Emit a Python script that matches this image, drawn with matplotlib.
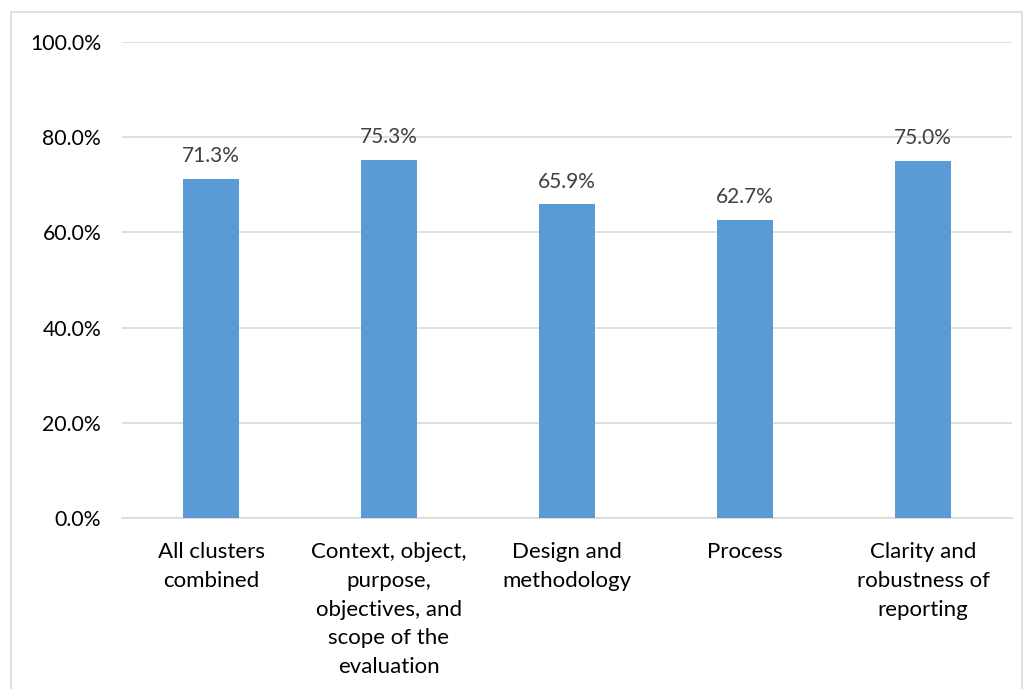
import matplotlib.pyplot as plt
from matplotlib.patches import Rectangle
from matplotlib.ticker import FuncFormatter

categories = [
    "All clusters\ncombined",
    "Context, object,\npurpose,\nobjectives, and\nscope of the\nevaluation",
    "Design and\nmethodology",
    "Process",
    "Clarity and\nrobustness of\nreporting",
]
values = [71.3, 75.3, 65.9, 62.7, 75.0]

plt.rcParams["font.family"] = ["Lato", "DejaVu Sans"]

W, H = 1028, 689
fig = plt.figure(figsize=(W / 100, H / 100), dpi=100)
ax = fig.add_axes([122 / W, 1 - 518 / H, 890 / W, 476 / H])

# outer chart border
fig.patches.append(Rectangle((11 / W, -0.05), (1022 - 11) / W, 1.05 - 12 / H,
                             transform=fig.transFigure, fill=False,
                             edgecolor="#D9D9D9", linewidth=1.2))

x = range(len(values))
bars = ax.bar(x, values, width=0.31, color="#5B9BD5", zorder=3)

for b, v in zip(bars, values):
    ax.annotate(f"{v:.1f}%", (b.get_x() + b.get_width() / 2, v),
                xytext=(0, 9), textcoords="offset points",
                ha="center", va="bottom", fontsize=15, color="#404040")

ax.set_xlim(-0.5, len(values) - 0.5)
ax.set_ylim(0, 100)
ax.set_yticks(range(0, 101, 20))
ax.yaxis.set_major_formatter(FuncFormatter(lambda v, p: f"{v:.1f}%"))
ax.set_xticks(list(x))
ax.set_xticklabels(categories, fontsize=16, linespacing=1.56)
ax.tick_params(axis="y", labelsize=15.3, length=0, pad=15)
ax.tick_params(axis="x", length=0, pad=17)
ax.grid(axis="y", color="#D9D9D9", linewidth=1.2, zorder=0)
for s in ["top", "right", "left"]:
    ax.spines[s].set_visible(False)
ax.spines["bottom"].set_color("#D9D9D9")
ax.spines["bottom"].set_linewidth(1.2)

fig.savefig("out.png", dpi=100)
